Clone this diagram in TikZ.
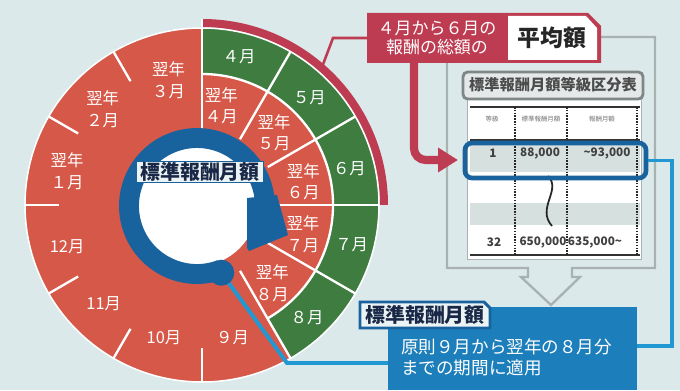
\documentclass[tikz,border=0pt]{standalone}
\usepackage{fontspec}
\setmainfont{Noto Sans CJK JP}
\usetikzlibrary{positioning,calc,arrows.meta}

\definecolor{bgc}{RGB}{219,233,234}
\definecolor{redc}{RGB}{214,88,72}
\definecolor{greenc}{RGB}{62,124,64}
\definecolor{maroonc}{RGB}{189,60,82}
\definecolor{ringc}{RGB}{24,98,158}
\definecolor{linec}{RGB}{34,152,210}
\definecolor{boxc}{RGB}{28,126,186}
\definecolor{navyc}{RGB}{24,40,70}
\definecolor{framec}{RGB}{168,178,178}
\definecolor{tabc}{RGB}{228,232,232}
\definecolor{rowc}{RGB}{214,224,222}
\definecolor{paperc}{RGB}{236,243,245}

\tikzset{
  month/.style={text=white,font=\fontsize{14}{18.5}\selectfont,align=center,inner sep=0pt},
  divider/.style={white,line width=2pt},
  cell/.style={text=black!75,font=\bfseries\fontsize{10}{11}\selectfont,inner sep=0pt},
  headcell/.style={text=black!55,font=\fontsize{5.5}{6}\selectfont,inner sep=0pt},
  rule/.style={black!80,line width=2.2pt},
  colline/.style={black!85,line width=1.6pt,dash pattern=on 1.3pt off 1.1pt},
  title/.style={text=navyc,font=\bfseries\fontsize{17}{19}\selectfont,inner sep=1pt},
  link/.style={linec,line width=3.4pt},
}

\begin{document}
\begin{tikzpicture}[x=0.03cm,y=0.03cm]
\useasboundingbox (0,0) rectangle (680,390);
\fill[bgc] (0,0) rectangle (680,390);

\coordinate (C) at (202,185);
\coordinate (B) at (197,184);

\draw[framec,line width=2pt] (528,122) -- (447,122) -- (447,353) -- (655,353) -- (655,122)
  -- (572,122) -- (572,113) -- (580,113) -- (551,85) -- (521,113) -- (528,113) -- cycle;

\fill[white] (467,291) rectangle (641,131);
\draw[framec,line width=0.8pt] (467,291) rectangle (641,131);
\draw[framec!75!black,line width=2.4pt,fill=tabc,rounded corners=4]
  (463,291) -- (463,318) -- (643,318) -- (643,291) -- cycle;
\node[font=\bfseries\fontsize{13}{14}\selectfont,text=black!70,inner sep=0pt] (tabtitle) at (553,305) {標準報酬月額等級区分表};
\fill[rowc] (470,249) rectangle (640,218);
\fill[rowc] (470,187) rectangle (640,165);
\draw[rule] (470,283) -- (640,283);
\draw[rule] (470,250) -- (640,250);
\draw[rule] (470,135) -- (640,135);
\foreach \x in {515,567,637}
  \draw[colline] (\x,283) -- (\x,135);
\node[headcell] (h1) at (492,271) {等級};
\node[headcell] (h2) at (541,271) {標準報酬月額};
\node[headcell] (h3) at (602,271) {報酬月額};
\node[cell] (c11) at (493,237) {1};
\node[cell] (c12) at (540,237) {88,000};
\node[cell] (c13) at (607,237) {\textasciitilde 93,000};
\node[cell] (c21) at (494,148) {32};
\node[cell] (c22) at (543,148) {650,000};
\node[cell] (c23) at (595,148) {635,000\textasciitilde};
\draw[black!85,line width=1.5pt] (548,214) .. controls (562,200) and (536,182) .. (552,164);
\node[draw=ringc,line width=4pt,rounded corners=6,minimum width=5.43cm,minimum height=1.05cm] (row1) at (555.5,229.5) {};

\fill[maroonc] (367,377) -- (588,377) -- (601,364) -- (601,327) -- (367,327) -- cycle;
\fill[white] (508,374) -- (586,374) -- (597,362) -- (597,330) -- (508,330) -- cycle;
\node[text=white,font=\fontsize{14.5}{16.5}\selectfont,align=center,inner sep=0pt] (sumtext) at (437,352) {４月から６月の\\報酬の総額の};
\node[font=\bfseries\fontsize{19.5}{21}\selectfont,text=black!85,inner sep=0pt] (avg) at (552,352) {平均額};
\coordinate (arrowfrom) at (414,327);
\coordinate (arrowto) at (458,230);
\draw[maroonc,line width=7pt,rounded corners=10,-{Triangle[length=17pt,width=20pt]}]
  (arrowfrom) |- (arrowto);

\fill[redc] (C) circle[radius=177];
\fill[greenc] ($(C)+(90:177)$) arc[start angle=90,end angle=-60,radius=177]
  -- ($(C)+(-60:131)$) arc[start angle=-60,end angle=90,radius=131] -- cycle;
\draw[white,line width=1.3pt] (C) circle[radius=177];
\fill[maroonc] ($(C)+(90:178)$) arc[start angle=90,end angle=0,radius=178]
  -- ($(C)+(0:186)$) arc[start angle=0,end angle=90,radius=186] -- cycle;
\draw[divider] ($(C)+(-60:131)$) arc[start angle=-60,end angle=90,radius=131];
\foreach \a in {60,30,0,-30,-60}
  \draw[divider] ($(C)+(\a:76)$) -- ($(C)+(\a:177)$);
\draw[divider] ($(C)+(90:76)$) -- ($(C)+(90:186)$);
\foreach \a in {-90,-120,...,-240}
  \draw[divider] ($(C)+(\a:143)$) -- ($(C)+(\a:177)$);

\begin{scope}[shift={(C)}]
\foreach \t/\a/\r in {４月/76/153,５月/45/152,６月/14/152,７月/-15/155,８月/-47/154}
  \node[month] (g\a) at (\a:\r) {\t};
\foreach \t/\a/\r in {９月/-77/136,10月/-106/138,11月/-135/139,12月/-163/141,
    翌年\\１月/166/139,翌年\\２月/136/138,翌年\\３月/105/129}
  \node[month] (r\a) at (\a:\r) {\t};
\foreach \t/\a/\r in {翌年\\４月/79/101,翌年\\５月/45/102,翌年\\６月/13/104,
    翌年\\７月/-16/105,翌年\\８月/-48/105}
  \node[month] (i\a) at (\a:\r) {\t};
\end{scope}

\coordinate (arcpt) at ($(C)+(49:183)$);
\coordinate (elbow) at (333,352);
\coordinate (callin) at (367,352);
\draw[maroonc,line width=2.2pt] (arcpt) -- (elbow) -- (callin);

\fill[white] (B) circle[radius=60];
\draw[ringc,line width=17pt] ($(B)+(-70:68)$) arc[start angle=-70,end angle=-365,radius=68];
\fill[ringc] (247,192) -- (277,195) -- (288,155) -- (249,139) -- (247,142) -- cycle;

\node[fill=boxc,minimum width=7.47cm,minimum height=2.49cm,inner sep=0pt] (desc) at (512.5,41.5) {};
\coordinate (dot) at ($(B)+(-70:71)$);
\coordinate (bend) at (287,27);
\draw[link] (dot) -- (bend) -- (bend -| desc.west);
\fill[ringc] (dot) circle[radius=13];
\coordinate (rightc) at (672,44);
\draw[link] (row1.east) -| (rightc) -- (rightc -| desc.east);

\node[title,fill=paperc,draw=ringc,line width=1.2pt,inner xsep=3pt] (ringlabel) at (200,218) {標準報酬月額};

\draw[ringc,line width=2.5pt,fill=paperc] (360,62) -- (360,88) -- (484,88) -- (490,82) -- (490,62) -- cycle;
\node[title] (desctitle) at (425,75) {標準報酬月額};
\node[anchor=west,text=white,font=\fontsize{15}{18}\selectfont,align=left,inner sep=0pt] (desctext) at (401,33) {原則９月から翌年の８月分\\までの期間に適用};
\end{tikzpicture}
\end{document}
